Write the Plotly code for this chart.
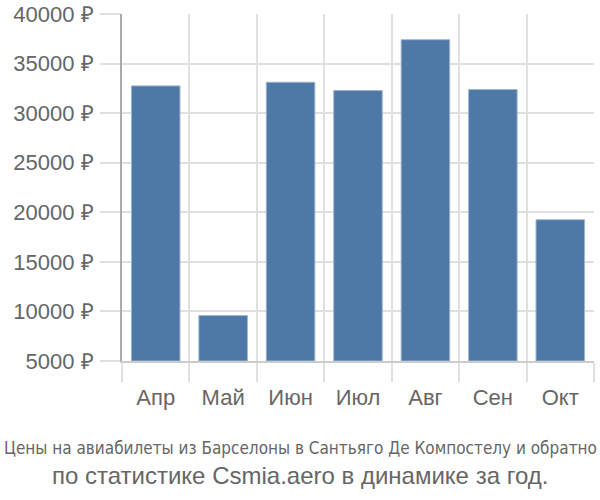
import plotly.graph_objects as go

months = ["Апр", "Май", "Июн", "Июл", "Авг", "Сен", "Окт"]
prices = [32750, 9580, 33120, 32280, 37410, 32380, 19250]
base_value = 5000
y_ticks = [5000, 10000, 15000, 20000, 25000, 30000, 35000, 40000]
y_labels = [f"{v} ₽" for v in y_ticks]
title_line1 = "Цены на авиабилеты из Барселоны в Сантьяго Де Компостелу и обратно"
title_line2 = "по статистике Csmia.aero в динамике за год."

FONT = "Liberation Sans, Arial, sans-serif"
GRID = "#e0e0e0"
TEXT = "#666666"

fig = go.Figure(go.Bar(
    x=months, y=[p - base_value for p in prices], base=base_value,
    marker=dict(color="#4e79a7", line=dict(width=1, color="#9fb5cf")),
    width=0.72,
))

fig.update_layout(
    width=600, height=500,
    margin=dict(l=122, r=6, t=14, b=138.5, autoexpand=False),
    plot_bgcolor="white", paper_bgcolor="white",
    showlegend=False,
    font=dict(family=FONT, color=TEXT),
    xaxis=dict(
        tickson="boundaries", showgrid=True, gridcolor=GRID, gridwidth=2,
        ticks="outside", ticklen=19, tickcolor=GRID, tickwidth=2,
        ticklabelstandoff=16, automargin=False,
        tickfont=dict(size=22, color=TEXT), showline=True, linecolor="#cccccc", linewidth=2,
        range=[-0.5, 6.5],
    ),
    yaxis=dict(
        range=[5000, 40000.01], tickvals=y_ticks, ticktext=y_labels,
        showgrid=True, gridcolor=GRID, gridwidth=2,
        ticks="outside", ticklen=20, tickcolor=GRID, tickwidth=2,
        ticklabelstandoff=2, automargin=False, ticklabeloverflow="allow",
        tickfont=dict(size=22, color=TEXT), showline=True, linecolor="#aaaaaa", linewidth=2,
        zeroline=False,
    ),
    annotations=[
        dict(text=title_line1, xref="paper", yref="paper", x=0.5, xanchor="center",
             y=-0.25, yanchor="middle", showarrow=False, xshift=-58,
             font=dict(family="DejaVu Sans Condensed, Liberation Sans Narrow, Liberation Sans", size=17, color=TEXT)),
        dict(text=title_line2, xref="paper", yref="paper", x=0.5, xanchor="center",
             y=-0.33, yanchor="middle", showarrow=False, xshift=-58,
             font=dict(family=FONT, size=24, color=TEXT)),
    ],
)

fig.write_html("out.html")
